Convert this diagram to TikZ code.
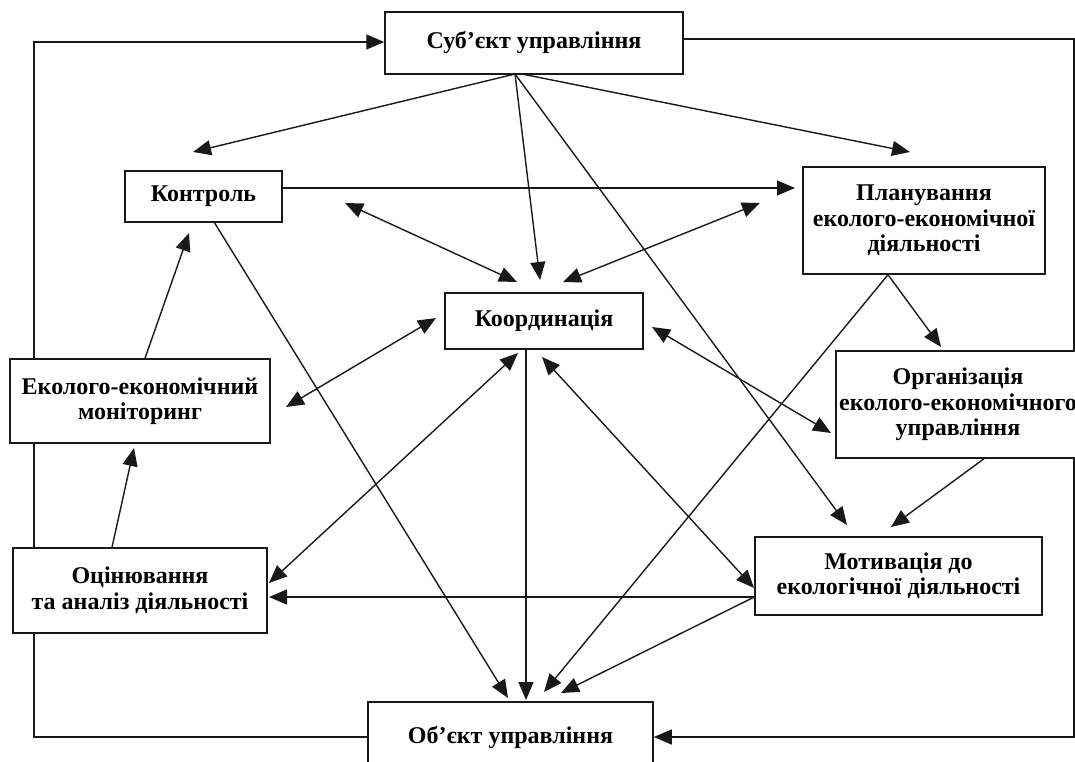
\documentclass[tikz,border=0pt]{standalone}
\usepackage{fontspec}
\setmainfont{Liberation Serif}
\usetikzlibrary{arrows.meta,backgrounds,calc}
\begin{document}
\begin{tikzpicture}[x=1pt,y=-1pt,
  box/.style={draw=black!90,line width=1.5pt,fill=white,inner sep=0pt,align=center,
    font=\fontsize{24}{25.5}\selectfont\bfseries},
  arr/.style={draw=black!90,line width=1.4pt,-{Triangle[length=18pt,width=15pt]}},
  darr/.style={draw=black!90,line width=1.4pt,{Triangle[length=18pt,width=15pt]}-{Triangle[length=18pt,width=15pt]}}]
\useasboundingbox (0,0) rectangle (1075,762);
\clip (0,0) rectangle (1075,762);

% boxes
\node[box,minimum width=298pt,minimum height=62pt] (subj) at (534,43) {\raisebox{-5pt}{Суб’єкт управління}};
\node[box,minimum width=157pt,minimum height=51pt] (kontrol) at (203.5,196.5) {Контроль};
\node[box,minimum width=242pt,minimum height=107pt] (plan) at (924,220.5) {Планування\\еколого-економічної\\діяльності};
\node[box,minimum width=198pt,minimum height=56pt] (koord) at (544,321) {Координація};
\node[box,minimum width=260pt,minimum height=84pt] (monit) at (140,401) {Еколого-економічний\\моніторинг};
\node[box,minimum width=244pt,minimum height=107pt] (org) at (958,404.5) {Організація\\еколого-економічного\\управління};
\node[box,minimum width=254pt,minimum height=85pt] (ocin) at (140,590.5) {Оцінювання\\та аналіз діяльності};
\node[box,minimum width=287pt,minimum height=78pt] (motyv) at (898.5,576) {Мотивація до\\екологічної діяльності};
\node[box,minimum width=285pt,minimum height=70pt] (obj) at (510.5,737) {\raisebox{-2pt}{Об’єкт управління}};

% helper coordinates
\coordinate (lx) at (34,400);
\coordinate (rx) at (1074,400);
\coordinate (fan) at (515,74);
\coordinate (fanR) at (522,74);
\coordinate (tK) at (193,152);
\coordinate (tP) at (910,152);
\coordinate (tKo) at (540,280);
\coordinate (tM) at (847,525);
\coordinate (tKP) at (795,188);
\coordinate (dL1) at (345,203);
\coordinate (dL2) at (517,282);
\coordinate (dR1) at (760,203);
\coordinate (dR2) at (563,282);
\coordinate (tO1) at (508,698);
\coordinate (tO2) at (526,700);
\coordinate (tO3) at (544,692);
\coordinate (tO4) at (561,693);
\coordinate (tMK) at (189,233);
\coordinate (tOM) at (134,448);
\coordinate (dM1) at (436,318);
\coordinate (dM2) at (286,407);
\coordinate (dN1) at (518,353);
\coordinate (dN2) at (269,583);
\coordinate (dP1) at (652,327);
\coordinate (dP2) at (831,433);
\coordinate (dQ1) at (542,357);
\coordinate (dQ2) at (754,588);
\coordinate (tPO) at (941,347);
\coordinate (tOrM) at (891,527);
\coordinate (tOc) at (269,597);

% loops behind the boxes
\begin{pgfonlayer}{background}
\draw[arr] (obj.west) -| (lx) |- ([yshift=1pt]subj.west);
\draw[arr] ([yshift=4pt]subj.east) -| (rx) |- (obj.east);
\end{pgfonlayer}

% connectors from the subject
\draw[arr] (fan) -- (tK);
\draw[arr] (fanR) -- (tP);
\draw[arr] (fan) -- (tKo);
\draw[arr] (fan) -- (tM);

% control
\draw[arr] ([yshift=8.5pt]kontrol.east) -- (tKP);
\draw[arr] ([xshift=11pt]kontrol.south) -- (tO1);
\draw[darr] (dL1) -- (dL2);
\draw[darr] (dR1) -- (dR2);

% monitoring, evaluation
\draw[arr] ([xshift=5pt]monit.north) -- (tMK);
\draw[arr] ([xshift=-28pt]ocin.north) -- (tOM);
\draw[darr] (dM1) -- (dM2);
\draw[darr] (dN1) -- (dN2);

% coordination
\draw[arr] ([xshift=-18pt]koord.south) -- (tO2);
\draw[darr] (dP1) -- (dP2);
\draw[darr] (dQ1) -- (dQ2);

% planning, organisation, motivation
\draw[arr] ([xshift=-36pt]plan.south) -- (tPO);
\draw[arr] ([xshift=-36pt]plan.south) -- (tO3);
\draw[arr] ([xshift=26pt]org.south) -- (tOrM);
\draw[arr] ([yshift=-21pt]motyv.west) -- (tOc);
\draw[arr] ([yshift=-21pt]motyv.west) -- (tO4);
\end{tikzpicture}
\end{document}
